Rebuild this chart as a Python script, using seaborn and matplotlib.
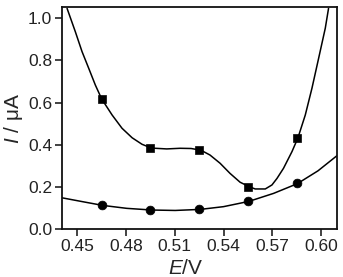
import matplotlib
matplotlib.use("Agg")
import matplotlib.pyplot as plt
import seaborn as sns

# measured points
pts_x = [0.465, 0.495, 0.525, 0.555, 0.585]
sq_y = [0.617, 0.384, 0.375, 0.200, 0.433]
ci_y = [0.112, 0.090, 0.093, 0.132, 0.216]

# fitted curves
sq_curve_x = [0.4437, 0.4488, 0.4529, 0.4570, 0.4611, 0.4650, 0.4714, 0.4775, 0.4837, 0.4898,
              0.4956, 0.5050, 0.5132, 0.5200, 0.5260, 0.5316, 0.5378, 0.5439, 0.5501, 0.5559,
              0.5594, 0.5656, 0.5697, 0.5728, 0.5768, 0.5820, 0.5857, 0.5902, 0.5943, 0.5984,
              0.6025, 0.6045]
sq_curve_y = [1.047, 0.936, 0.842, 0.763, 0.683, 0.617, 0.541, 0.478, 0.433, 0.402,
              0.384, 0.380, 0.383, 0.382, 0.374, 0.351, 0.312, 0.264, 0.222, 0.200,
              0.190, 0.190, 0.209, 0.240, 0.288, 0.367, 0.433, 0.541, 0.668, 0.810,
              0.953, 1.047]
ci_curve_x = [0.4406, 0.4530, 0.4656, 0.4804, 0.4958, 0.5102, 0.5256, 0.5399, 0.5555, 0.5707,
              0.5853, 0.5980, 0.6097]
ci_curve_y = [0.148, 0.130, 0.112, 0.098, 0.090, 0.088, 0.093, 0.106, 0.131, 0.169,
              0.215, 0.276, 0.348]

sns.set_style("ticks")
plt.rcParams['font.family'] = ['Liberation Sans', 'DejaVu Sans']
plt.rcParams['mathtext.fontset'] = 'custom'
plt.rcParams['mathtext.it'] = 'Liberation Sans:italic'
plt.rcParams['mathtext.rm'] = 'Liberation Sans'

fig = plt.figure(figsize=(3.43, 2.77), dpi=100)
ax = fig.add_axes([0.1808, 0.1733, 0.8017, 0.8003])

sns.lineplot(x=sq_curve_x, y=sq_curve_y, ax=ax, color='black', lw=1.1, sort=False)
sns.lineplot(x=ci_curve_x, y=ci_curve_y, ax=ax, color='black', lw=1.1, sort=False)
sns.scatterplot(x=pts_x, y=sq_y, ax=ax, marker='s', s=36, color='black', edgecolor='black', zorder=3)
sns.scatterplot(x=pts_x, y=ci_y, ax=ax, marker='o', s=40, color='black', edgecolor='black', zorder=3)

ax.set_xlim(0.4406, 0.6097)
ax.set_ylim(0, 1.052)
ax.set_xticks([0.45, 0.48, 0.51, 0.54, 0.57, 0.60])
ax.set_xticklabels(['0.45', '0.48', '0.51', '0.54', '0.57', '0.60'])
ax.set_yticks([0.0, 0.2, 0.4, 0.6, 0.8, 1.0])
ax.set_yticklabels(['0.0', '0.2', '0.4', '0.6', '0.8', '1.0'])
ax.tick_params(labelsize=12.5, length=5, width=1.2, direction='out', colors='#222222', labelcolor='#222222', pad=2)
for s in ax.spines.values():
    s.set_linewidth(1.3)
    s.set_color('#111111')

ax.set_xlabel(r'$\mathit{E}$/V', fontsize=15, labelpad=0)
ax.set_ylabel(r'$\mathit{I}$ / μA', fontsize=15, labelpad=2)
ax.xaxis.set_label_coords(0.45, -0.135)

fig.savefig('out.png', dpi=100)
